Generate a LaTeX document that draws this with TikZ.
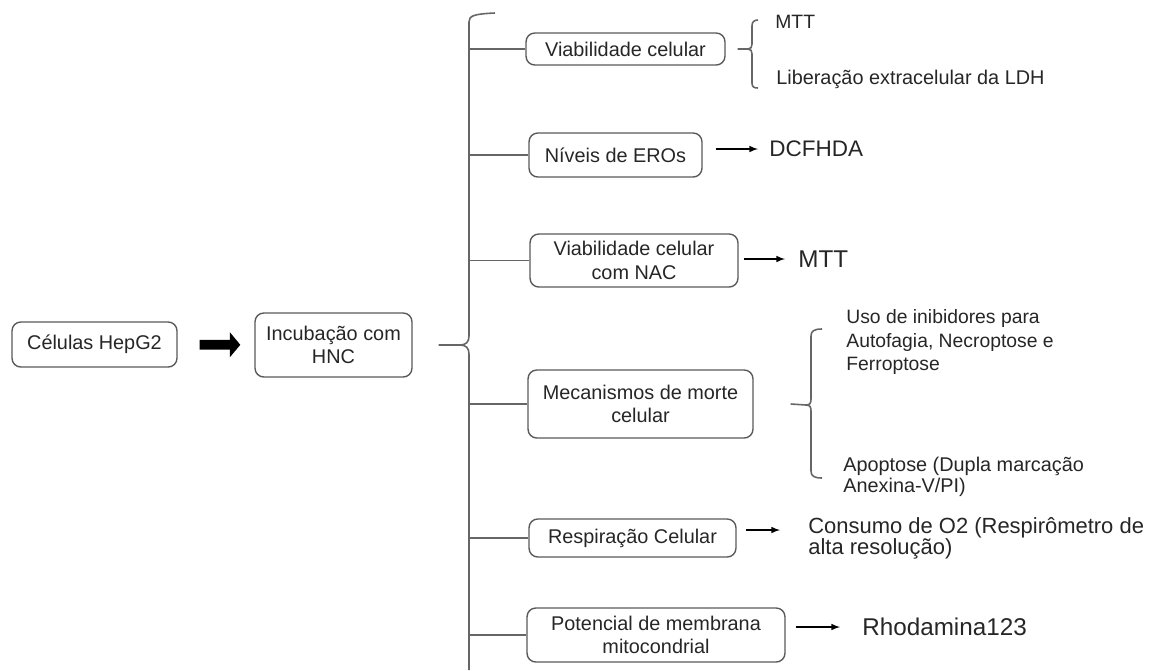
\documentclass[tikz,border=0pt]{standalone}
\usepackage{fontspec}
\setmainfont{Liberation Sans}
\usetikzlibrary{arrows.meta, calc}

\begin{document}
\begin{tikzpicture}[x=0.02cm, y=-0.02cm,
	box/.style={draw=black!65, line width=0.8pt, rounded corners=5pt, inner sep=0, align=center, text=black!85},
	spine/.style={draw=black!60, line width=0.9pt},
	seta/.style={-latex, line width=0.7pt, black},
	result/.style={inner sep=0, anchor=west, align=left, text=black!85},
	grande/.style={font=\fontsize{13.8}{16}\selectfont},
	every node/.style={font=\fontsize{11.3}{13.5}\selectfont}
	]
	\useasboundingbox (0,0) rectangle (1149,670);
	
	\node (hepg2) at (94.5,344.5) [box, minimum width=3.3cm, minimum height=0.9cm] {Células HepG2};
	\node (incub) at (333.5,345) [box, minimum width=3.14cm, minimum height=1.28cm] {Incubação com\\HNC};
	\draw [-{Triangle[length=6pt,width=14pt]}, line width=5.5pt, black, shorten <=0.44cm, shorten >=0.28cm] (hepg2) -- (incub);
	
	\node (viab) at (625.5,49) [box, minimum width=3.98cm, minimum height=0.64cm] {Viabilidade celular};
	\node (eros) at (615.5,155) [box, minimum width=3.46cm, minimum height=0.88cm] {Níveis de EROs};
	\node (nac) at (634,260.5) [box, minimum width=4.16cm, minimum height=1.06cm] {Viabilidade celular\\com NAC};
	\node (morte) at (640.5,404) [box, minimum width=4.5cm, minimum height=1.36cm] {Mecanismos de morte\\celular};
	\node (resp) at (632.5,538) [box, minimum width=4.14cm, minimum height=0.76cm] {Respiração Celular};
	\node (pot) at (656,635) [box, minimum width=5.16cm, minimum height=1.08cm] {Potencial de membrana\\mitocondrial};
	
	% chave principal
	\coordinate (trunk) at (469,0);
	\draw [spine] ($(incub.east)+(26,0)$) -- (460,345) .. controls (466,345) and (469,342) .. (469,336) -- (469,22) .. controls (469,16) and (473,14) .. (495,13);
	\draw [spine] (460,345) .. controls (466,345) and (469,348) .. (469,354) -- (469,670);
	\foreach \n in {viab,eros,nac,morte,resp,pot}
		\draw [spine] (trunk |- \n.west) -- (\n.west);
	
	% viabilidade celular
	\draw [spine] ($(viab.east)+(12,0)$) -- (748,49) .. controls (751,49) and (752,47) .. (752,44) -- (752,26) .. controls (752,22) and (754,20) .. (758,20);
	\draw [spine] (748,49) .. controls (751,49) and (752,51) .. (752,54) -- (752,83) .. controls (752,87) and (754,88) .. (758,88);
	\node (mtt1) at (775,22) [result, font=\fontsize{11}{13}\selectfont] {MTT};
	\node (ldh) at (776,79) [result] {Liberação extracelular da LDH};
	
	\node (dcf) at (769,149) [result, font=\fontsize{12.8}{15}\selectfont] {DCFHDA};
	\draw [seta, shorten <=0.26cm, shorten >=0.22cm] (eros.east |- dcf.west) -- (dcf.west);
	
	\node (mtt2) at (798,259) [result, grande] {MTT};
	\draw [seta, shorten <=0.1cm, shorten >=0.26cm] (nac.east |- mtt2.west) -- (mtt2.west);
	
	% mecanismos de morte
	\draw [spine] ($(morte.east)+(37,0)$) -- (806,405) .. controls (810,405) and (811,403) .. (811,399) -- (811,336) .. controls (811,331) and (814,329) .. (822,329);
	\draw [spine] (806,405) .. controls (810,405) and (811,407) .. (811,411) -- (811,471) .. controls (811,476) and (814,478) .. (822,478);
	\node (inib) at (846,342) [result, font=\fontsize{11}{13.3}\selectfont] {Uso de inibidores para\\Autofagia, Necroptose e\\Ferroptose};
	\node (apop) at (843,477) [result, font=\fontsize{11.3}{12}\selectfont] {Apoptose (Dupla marcação\\Anexina-V/PI)};
	
	\node (cons) at (808,538) [result, font=\fontsize{12.5}{12}\selectfont] {Consumo de O2 (Respirômetro de\\alta resolução)};
	\draw [seta, shorten <=0.18cm, shorten >=0.56cm] (resp.east |- 0,530) -- (cons.west |- 0,530);
	
	\node (rhod) at (862,627) [result, grande] {Rhodamina123};
	\draw [seta, shorten <=0.2cm, shorten >=0.44cm] (pot.east |- rhod.west) -- (rhod.west);
\end{tikzpicture}
\end{document}
